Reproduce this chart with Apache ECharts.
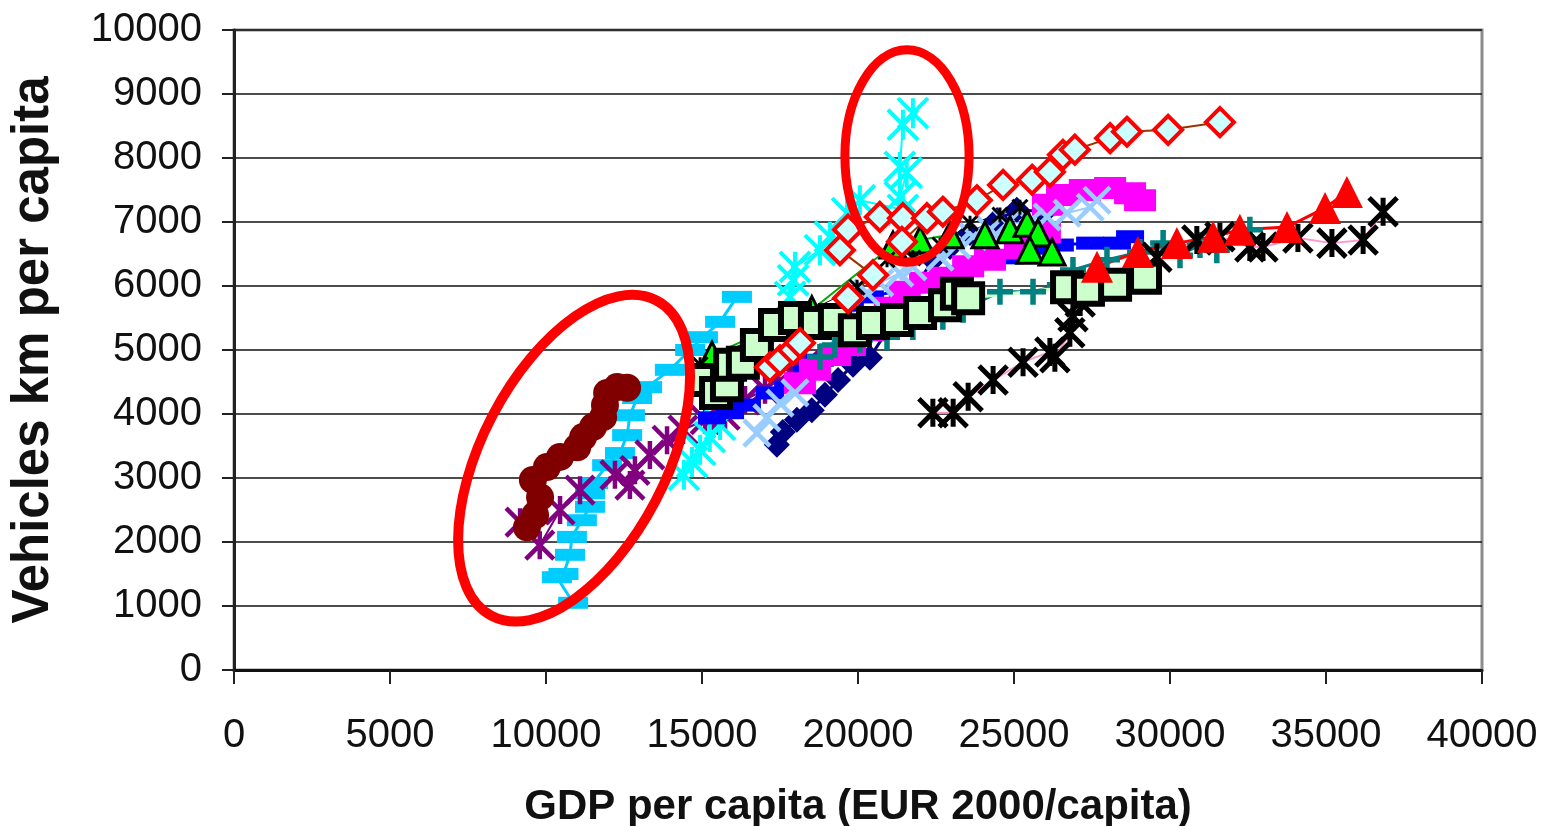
<!DOCTYPE html>
<html><head><meta charset="utf-8">
<script src="https://cdn.jsdelivr.net/npm/echarts@6/dist/echarts.min.js"></script>
<style>html,body{margin:0;padding:0;background:#fff}#c{width:1542px;height:826px}</style>
</head><body><div id="c"></div>
<script>
// ---- data (GDP per capita, vehicle km per capita) ----
var xTicks = [0, 5000, 10000, 15000, 20000, 25000, 30000, 35000, 40000];
var yTicks = [0, 1000, 2000, 3000, 4000, 5000, 6000, 7000, 8000, 9000, 10000];

var maroonPts = [[9390,2230],[9650,2420],[9810,2700],[9580,2970],[10030,3170],[10450,3330],[11000,3480],[11190,3640],[11510,3800],[11830,3950],[11890,4140],[11960,4330],[12280,4420],[12600,4410]];
var skyDashPts = [[10870,1050],[10350,1450],[10560,1500],[10770,1800],[10830,2080],[11150,2340],[11410,2550],[11410,2760],[11510,2920],[11960,3200],[12370,3390],[12600,3670],[12690,3980],[12920,4250],[13240,4420],[13970,4690],[14620,5000],[15030,5200],[15580,5440],[16120,5830]];
var purplePts = [[9170,2310],[9800,1950],[10450,2500],[11090,2810],[12210,3050],[12690,2890],[12850,3120],[13330,3360],[13880,3590],[14390,3750],[15100,3910],[15740,3980],[16380,4220],[17020,4380],[17820,4660],[18300,4770]];
var cyanPts = [[14420,3050],[14680,3250],[14940,3440],[15250,3640],[15580,3830],[17820,5830],[17920,6090],[17980,6300],[18780,6560],[19100,6770],[19650,7140],[20060,7340],[21440,7190],[21340,7390],[21560,7770],[21340,7860],[21440,8520],[21760,8700]];
var navyPts = [[17400,3520],[17590,3720],[18040,3910],[18520,4060],[18940,4300],[19360,4530],[19840,4770],[20380,4880],[22400,6410],[22950,6610],[23590,6830],[24460,7030],[25090,7190],[25990,7160]];
var blueDashPts = [[15320,3940],[15900,4020],[16440,4140],[17180,4330],[17760,4420],[18360,4660],[18780,4840],[19200,5000],[19740,5700],[20380,5830],[21440,5940],[22400,6090],[23270,6220],[24010,6360],[24870,6440],[25740,6590],[26470,6640],[27440,6670],[28300,6670],[28720,6770]];
var magentaPts = [[18140,4480],[18620,4690],[19260,4920],[19740,5080],[20380,5310],[21020,5660],[21500,5910],[22150,6050],[22790,6130],[23530,6310],[24230,6410],[25190,6590],[25990,6840],[26090,7270],[26540,7420],[27270,7500],[28080,7530],[28720,7450],[29040,7340]];
var lightBlueXPts = [[16760,3700],[17080,3940],[17500,4170],[17980,4330],[20290,5890],[20700,6050],[21340,6200],[21760,6300],[22630,6450],[23170,6640],[23690,6770],[24230,6880],[24780,6980],[25510,7000],[26060,7080],[26700,7140],[27440,7230],[27660,7340]];
var tealPts = [[18780,4890],[19260,5080],[20060,5160],[20930,5200],[21760,5360],[22720,5520],[23370,5630],[24550,5910],[25610,5910],[26470,6020],[26890,6250],[27980,6410],[29040,6530],[29780,6670],[30320,6480],[30960,6640],[31500,6560],[32560,6880]];
var blackStarPts = [[22400,4020],[23050,4020],[23530,4270],[24330,4530],[25290,4810],[26150,4970],[26310,4880],[26790,5270],[26890,5520],[27120,5750],[29580,6450],[30860,6720],[31600,6770],[32560,6610],[32980,6610],[34100,6750],[35190,6670],[36190,6720],[36830,7160]];
var greenTriPts = [[15320,4920],[18520,5630],[21120,6640],[21990,6720],[22950,6800],[24070,6800],[24870,6880],[25420,6980],[25770,6830],[25510,6560],[26220,6530]];
var smallStarPts = [[14940,4770],[19970,5980],[20930,6410],[21760,6440],[22630,6640],[23590,6980],[24550,7110],[25190,7230]];
var squarePts = [[15030,4530],[15450,4330],[15800,4450],[15900,4770],[16310,4800],[16760,5080],[17340,5390],[17980,5500],[18620,5420],[19260,5470],[19900,5310],[20480,5420],[21250,5470],[21990,5580],[22790,5700],[23170,5880],[23530,5810],[26700,5980],[27370,5940],[28240,6020],[29200,6130]];
var diamondPts = [[17180,4730],[17500,4840],[17920,5000],[18140,5110],[19680,5810],[20480,6170],[19420,6560],[19680,6880],[20700,7080],[21440,7060],[21410,6690],[22210,7060],[22720,7160],[23810,7340],[24650,7580],[25580,7660],[26150,7780],[26570,8050],[26950,8130],[28080,8310],[28620,8410],[29940,8440],[31600,8560]];
var redTriPts = [[27660,6300],[28970,6530],[30220,6670],[31380,6770],[32240,6880],[33750,6920],[34970,7220],[35670,7470]];

// annotation ellipses (data units)
var highlightEllipses = [
  {cx: 10900, cy: 3310, rx: 2950, ry: 2780, rotDeg: -27.6, width: 10},
  {cx: 21570, cy: 8030, rx: 1990, ry: 1660, rotDeg: 0, width: 9}
];

var AST = 'path://M0,0L20,20M0,20L20,0M10,0L10,20';
var XSYM = 'path://M0,0L20,20M0,20L20,0';
var PLUS = 'path://M10,0L10,20M0,10L20,10';

function ser(data, o) {
  return {
    type: 'line', data: data, silent: true, z: 2,
    symbol: o.symbol, symbolSize: o.size,
    lineStyle: {color: o.line, width: o.lw || 2},
    itemStyle: {color: o.fill, borderColor: o.border || o.fill, borderWidth: o.bw || 0},
    emphasis: {disabled: true}
  };
}
function plain(v) { return String(v); }

var chart = echarts.init(document.getElementById('c'), null, {renderer: 'canvas'});
var font = 'Liberation Sans, Arial, sans-serif';
chart.setOption({
  animation: false,
  backgroundColor: '#fff',
  grid: {left: 234, right: 60, top: 30, bottom: 156, show: true, borderColor: '#8c8c8c', borderWidth: 3, outerBoundsMode: 'none'},
  xAxis: {
    type: 'value', min: xTicks[0], max: xTicks[xTicks.length - 1], interval: xTicks[1] - xTicks[0],
    name: 'GDP per capita (EUR 2000/capita)', nameLocation: 'middle', nameGap: 116,
    nameTextStyle: {fontFamily: font, fontSize: 42, fontWeight: 'bold', color: '#111'},
    axisLine: {show: true, lineStyle: {color: '#111', width: 3}},
    axisTick: {show: true, inside: false, length: 14, lineStyle: {color: '#222', width: 2}},
    axisLabel: {margin: 46, fontFamily: font, fontSize: 40, color: '#111', formatter: plain},
    splitLine: {show: false}
  },
  yAxis: {
    type: 'value', min: yTicks[0], max: yTicks[yTicks.length - 1], interval: yTicks[1] - yTicks[0],
    name: 'Vehicles km per capita', nameLocation: 'middle', nameGap: 175, nameRotate: 90,
    nameTextStyle: {fontFamily: font, fontSize: 51, fontWeight: 'bold', color: '#111'},
    axisLine: {show: true, lineStyle: {color: '#222', width: 3}},
    axisTick: {show: true, inside: false, length: 12, lineStyle: {color: '#222', width: 2}},
    axisLabel: {margin: 32, fontFamily: font, fontSize: 40, color: '#111', formatter: plain},
    splitLine: {show: true, lineStyle: {color: '#111', width: 1.5}}
  },
  series: [
    ser(skyDashPts, {symbol: 'rect', size: [30, 12], fill: '#00CCFF', line: '#00CCFF', lw: 3}),
    ser(purplePts, {symbol: AST, size: 28, fill: 'rgba(0,0,0,0)', border: '#800080', bw: 4.5, line: '#800080'}),
    ser(maroonPts, {symbol: 'circle', size: 28, fill: '#800000', line: '#800000', lw: 8}),
    ser(cyanPts, {symbol: AST, size: 30, fill: 'rgba(0,0,0,0)', border: '#00FFFF', bw: 4, line: '#00FFFF'}),
    ser(navyPts, {symbol: 'diamond', size: 26, fill: '#000080', line: '#000080', lw: 3}),
    ser(blueDashPts, {symbol: 'rect', size: [28, 13], fill: '#0000FF', line: '#0000FF', lw: 3}),
    ser(magentaPts, {symbol: 'rect', size: [32, 22], fill: '#FF00FF', line: '#FF00FF', lw: 3}),
    ser(lightBlueXPts, {symbol: XSYM, size: 26, fill: 'rgba(0,0,0,0)', border: '#99CCFF', bw: 4.5, line: '#99CCFF'}),
    ser(tealPts, {symbol: PLUS, size: 26, fill: 'rgba(0,0,0,0)', border: '#008080', bw: 5.5, line: '#008080', lw: 3}),
    ser(blackStarPts, {symbol: AST, size: 28, fill: 'rgba(0,0,0,0)', border: '#000000', bw: 5, line: '#FF99CC'}),
    ser(greenTriPts, {symbol: 'triangle', size: 26, fill: '#00FF00', border: '#000', bw: 3, line: '#00AA00'}),
    ser(smallStarPts, {symbol: AST, size: 15, fill: 'rgba(0,0,0,0)', border: '#000000', bw: 3, line: '#000000', lw: 1}),
    ser(squarePts, {symbol: 'rect', size: 28, fill: '#CCFFCC', border: '#000', bw: 6, line: '#CCFFCC', lw: 3}),
    ser(diamondPts, {symbol: 'diamond', size: 28, fill: '#CCFFFF', border: '#FF0000', bw: 4, line: '#993300'}),
    ser(redTriPts, {symbol: 'triangle', size: 32, fill: '#FF0000', line: '#FF0000', lw: 3})
  ]
});

// annotation ellipses positioned via axis scales
var gfx = highlightEllipses.map(function (e) {
  var c = chart.convertToPixel({gridIndex: 0}, [e.cx, e.cy]);
  var px = chart.convertToPixel({gridIndex: 0}, [e.cx + e.rx, e.cy]);
  var py = chart.convertToPixel({gridIndex: 0}, [e.cx, e.cy + e.ry]);
  return {
    type: 'ellipse', x: c[0], y: c[1], rotation: e.rotDeg * Math.PI / 180, z: 100, silent: true,
    shape: {cx: 0, cy: 0, rx: Math.abs(px[0] - c[0]), ry: Math.abs(c[1] - py[1])},
    style: {fill: 'none', stroke: '#FF0000', lineWidth: e.width}
  };
});
chart.setOption({graphic: gfx});
</script></body></html>
